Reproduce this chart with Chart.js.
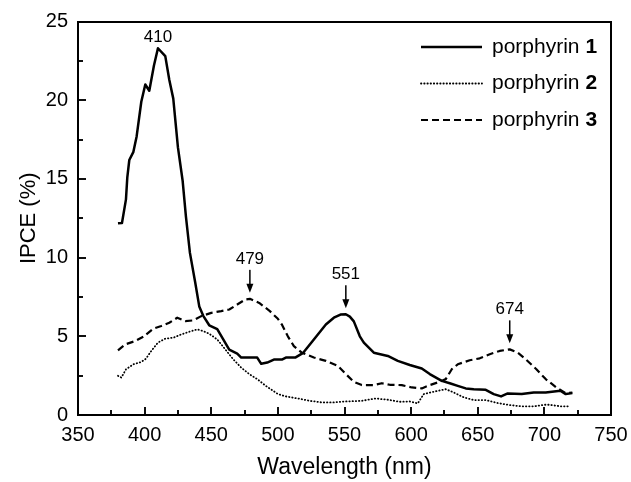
<!DOCTYPE html>
<html>
<head>
<meta charset="utf-8">
<script src="https://cdn.jsdelivr.net/npm/chart.js@4"></script>
<style>
  html, body { margin: 0; padding: 0; background: #fff; }
  #c { display: block; }
</style>
</head>
<body>
<canvas id="c" width="631" height="482"></canvas>
<script>
// IPCE action spectra of three porphyrin sensitizers
const seriesNames = ['porphyrin ', 'porphyrin ', 'porphyrin '];
const seriesNumbers = ['1', '2', '3'];

const wl1 = [380, 383, 386, 387, 388.5, 391.5, 394, 397.5, 400.5, 403.5, 407, 410, 415.5, 418.5, 421.5, 425, 428.5, 431, 434, 438, 441, 444, 448.5, 454.5, 459, 463.5, 469.5, 472.5, 484.5, 487.5, 492, 497, 503, 506, 513, 519, 527, 536, 542, 547, 551, 554, 557, 561.5, 564.5, 572, 582.5, 590, 599, 608, 614, 623, 629, 635, 641, 647, 656, 662, 667.5, 672.5, 683, 692, 701, 712, 716, 721];
const ipce1 = [12.18, 12.2, 13.7, 15.1, 16.2, 16.7, 17.7, 19.9, 21.0, 20.6, 22.2, 23.3, 22.8, 21.3, 20.1, 17.0, 14.9, 12.6, 10.3, 8.4, 6.9, 6.3, 5.7, 5.45, 4.8, 4.15, 3.9, 3.65, 3.65, 3.25, 3.33, 3.52, 3.52, 3.65, 3.65, 3.95, 4.8, 5.75, 6.18, 6.38, 6.4, 6.25, 5.95, 5.0, 4.6, 3.96, 3.75, 3.44, 3.18, 2.95, 2.6, 2.17, 2.02, 1.85, 1.69, 1.64, 1.6, 1.33, 1.18, 1.37, 1.33, 1.43, 1.43, 1.54, 1.33, 1.39];

const wl2 = [380, 382.5, 386, 391.5, 397.5, 401, 405, 410, 415.5, 421.5, 427.5, 433.5, 439.5, 444, 448.5, 454.5, 460.5, 466.5, 472.5, 478.5, 484.5, 491, 500, 506, 515, 524, 533, 542, 551, 563, 573.5, 582.5, 591.5, 599, 605, 609.5, 617, 626, 632, 639.5, 647, 656, 665, 674, 683, 692, 700, 704, 712, 719];
const ipce2 = [2.49, 2.38, 2.9, 3.22, 3.37, 3.58, 4.07, 4.6, 4.85, 4.91, 5.12, 5.29, 5.44, 5.33, 5.16, 4.8, 4.17, 3.54, 3.01, 2.6, 2.28, 1.85, 1.33, 1.18, 1.05, 0.9, 0.8, 0.8, 0.86, 0.9, 1.05, 0.97, 0.84, 0.86, 0.74, 1.33, 1.48, 1.64, 1.43, 1.12, 0.95, 0.95, 0.76, 0.63, 0.55, 0.55, 0.65, 0.65, 0.55, 0.55];

const wl3 = [380, 385.5, 393, 399, 406.5, 412.5, 418.5, 424.5, 430.5, 436.5, 442.5, 450, 457.5, 463.5, 469.5, 475.5, 479, 486, 494, 500, 503, 507.5, 512, 518, 527, 536, 545, 551, 557, 563, 572, 578, 584, 593, 600.5, 608, 614, 620, 626, 630.5, 635, 644, 651.5, 659, 666.5, 674, 680, 686, 694, 701, 709, 716, 721];
const ipce3 = [4.11, 4.49, 4.7, 4.97, 5.48, 5.65, 5.86, 6.18, 5.97, 6.01, 6.28, 6.49, 6.6, 6.7, 7.02, 7.34, 7.38, 7.12, 6.6, 6.11, 5.75, 5.0, 4.38, 3.96, 3.65, 3.44, 3.12, 2.6, 2.1, 1.9, 1.9, 2.02, 1.92, 1.9, 1.75, 1.69, 1.9, 2.07, 2.28, 2.91, 3.22, 3.48, 3.6, 3.86, 4.07, 4.17, 3.96, 3.54, 2.91, 2.28, 1.75, 1.39, 1.43];

// peak annotations: wavelength label, series it marks, arrow or plain label
const peakLabels = ['410', '479', '551', '674'];
const peakWl = [410, 479, 551, 674];
const peakSeries = [0, 2, 0, 2];
const peakArrow = [false, true, true, true];

const xTicks = [350, 400, 450, 500, 550, 600, 650, 700, 750];
const yTicks = [0, 5, 10, 15, 20, 25];

const FONT = '"Liberation Sans", Arial, Helvetica, sans-serif';

const seriesX = [wl1, wl2, wl3];
const seriesY = [ipce1, ipce2, ipce3];

const lineStyles = [
  { borderWidth: 2.5, borderDash: [], borderCapStyle: 'butt' },
  { borderWidth: 1.8, borderDash: [0.4, 2.8], borderCapStyle: 'round' },
  { borderWidth: 2.2, borderDash: [7, 4], borderCapStyle: 'butt' }
];

const datasets = seriesX.map((xs, i) => Object.assign({
  label: seriesNames[i] + seriesNumbers[i],
  data: xs.map((x, j) => ({ x: x, y: seriesY[i][j] })),
  xAxisID: 'x',
  yAxisID: 'y',
  borderColor: '#000',
  backgroundColor: '#000',
  pointRadius: 0,
  tension: 0,
  fill: false,
  borderJoinStyle: 'round'
}, lineStyles[i]));

// frame and inward ticks, drawn as filled bars
function drawFrame(chart) {
  const ctx = chart.ctx;
  const a = chart.chartArea;
  const sx = chart.scales.x, sy = chart.scales.y;
  const L = Math.round(a.left), R = Math.round(a.right);
  const T = Math.round(a.top), B = Math.round(a.bottom);
  ctx.save();
  ctx.globalAlpha = 1;
  ctx.globalCompositeOperation = 'source-over';
  ctx.fillStyle = '#000';
  ctx.fillRect(L - 1, T - 1, R - L + 2, 2);
  ctx.fillRect(L - 1, B - 1, R - L + 2, 2);
  ctx.fillRect(L - 1, T - 1, 2, B - T + 2);
  ctx.fillRect(R - 1, T - 1, 2, B - T + 2);
  xTicks.forEach((v, i) => {
    const p = Math.round(sx.getPixelForValue(v));
    ctx.fillRect(p - 0.75, B - 8, 1.5, 8);
    if (i < xTicks.length - 1) {
      const m = Math.round(sx.getPixelForValue((v + xTicks[i + 1]) / 2));
      ctx.fillRect(m - 0.75, B - 5, 1.5, 5);
    }
  });
  yTicks.forEach((v, i) => {
    const p = Math.round(sy.getPixelForValue(v));
    ctx.fillRect(L, p - 0.75, 8, 1.5);
    if (i < yTicks.length - 1) {
      const m = Math.round(sy.getPixelForValue((v + yTicks[i + 1]) / 2));
      ctx.fillRect(L, m - 0.75, 5, 1.5);
    }
  });
  ctx.restore();
}

function drawLegend(chart) {
  const ctx = chart.ctx;
  ctx.save();
  ctx.strokeStyle = '#000';
  ctx.fillStyle = '#000';
  lineStyles.forEach((st, i) => {
    const y = 47 + i * 36.5;
    ctx.lineWidth = st.borderWidth;
    ctx.lineCap = st.borderCapStyle;
    ctx.setLineDash(st.borderDash);
    ctx.beginPath(); ctx.moveTo(421, y); ctx.lineTo(482, y); ctx.stroke();
    ctx.setLineDash([]);
    ctx.textBaseline = 'middle';
    ctx.textAlign = 'left';
    ctx.font = '21px ' + FONT;
    ctx.fillText(seriesNames[i], 492, y);
    const w = ctx.measureText(seriesNames[i]).width;
    ctx.font = 'bold 21px ' + FONT;
    ctx.fillText(seriesNumbers[i], 492 + w, y);
  });
  ctx.restore();
}

function drawPeaks(chart) {
  const ctx = chart.ctx;
  const sx = chart.scales.x, sy = chart.scales.y;
  ctx.save();
  ctx.fillStyle = '#000';
  ctx.font = '17px ' + FONT;
  ctx.textAlign = 'center';
  ctx.textBaseline = 'middle';
  peakWl.forEach((wl, i) => {
    const k = peakSeries[i];
    const j = seriesX[k].indexOf(wl);
    if (j < 0) return;
    const px = sx.getPixelForValue(wl);
    const py = sy.getPixelForValue(seriesY[k][j]);
    if (!peakArrow[i]) {
      ctx.fillText(peakLabels[i], px, py - 11);
      return;
    }
    const tip = py - 6, top = py - 29;
    ctx.fillRect(px - 0.75, top, 1.5, tip - 6 - top);
    ctx.beginPath();
    ctx.moveTo(px, tip); ctx.lineTo(px - 3.5, tip - 9); ctx.lineTo(px + 3.5, tip - 9); ctx.closePath();
    ctx.fill();
    ctx.fillText(peakLabels[i], px, py - 40);
  });
  ctx.restore();
}

const decorations = {
  id: 'decorations',
  afterDraw(chart) {
    drawFrame(chart);
    drawLegend(chart);
    drawPeaks(chart);
    drawFrame(chart);
  }
};

const axisBorder = { display: true, color: '#000', width: 2 };

new Chart(document.getElementById('c'), {
  type: 'line',
  data: { datasets: datasets },
  options: {
    responsive: false,
    animation: false,
    events: [],
    layout: { padding: { top: 21.5, right: 20, left: 0, bottom: 0 } },
    plugins: { legend: { display: false }, tooltip: { enabled: false } },
    scales: {
      x: {
        type: 'linear', position: 'bottom', min: 350, max: 750,
        afterBuildTicks(s) { s.ticks = xTicks.map(v => ({ value: v })); },
        afterFit(s) { s.height = 67; s.paddingLeft = 0; s.paddingRight = 0; },
        grid: { display: false, drawTicks: false },
        border: axisBorder,
        ticks: { color: '#000', font: { family: FONT, size: 20 }, padding: 8, maxRotation: 0, autoSkip: false },
        title: { display: true, text: 'Wavelength (nm)', color: '#000', font: { family: FONT, size: 23 }, padding: { top: 0, bottom: 1 } }
      },
      y: {
        type: 'linear', position: 'left', min: 0, max: 25,
        afterBuildTicks(s) { s.ticks = yTicks.map(v => ({ value: v })); },
        afterFit(s) { s.width = 78; s.paddingTop = 0; s.paddingBottom = 0; },
        grid: { display: false, drawTicks: false },
        border: axisBorder,
        ticks: { color: '#000', font: { family: FONT, size: 20 }, padding: 10 },
        title: { display: true, text: 'IPCE (%)', color: '#000', font: { family: FONT, size: 22 }, padding: { top: 16, bottom: 0 } }
      }
    }
  },
  plugins: [decorations]
});
</script>
</body>
</html>
